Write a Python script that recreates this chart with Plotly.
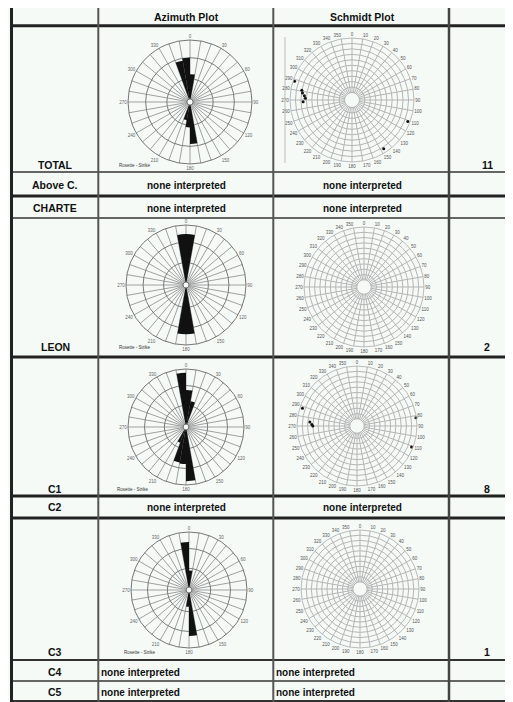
import plotly.graph_objects as go

# the page body has an 8px margin: the figure starts at page pixel (8, 8)
OFF = 8
W, H = 513, 702
FW, FH = W - OFF, H - OFF
BG = "#f5faf7"
FONT = "Liberation Sans"

# ---------------- data ----------------
header_labels = ["Azimuth Plot", "Schmidt Plot"]
row_labels = ["TOTAL", "Above C.", "CHARTE", "LEON", "C1", "C2", "C3", "C4", "C5"]
row_counts = ["11", "", "", "2", "8", "", "1", "", ""]
none_text = "none interpreted"

# rose (strike) bins: centre azimuth (deg) and relative length
rose_total_theta = [345, 355, 5, 175, 185, 195]
rose_total_r = [0.66, 0.70, 0.42, 0.66, 0.38, 0.26]
rose_leon_theta = [355, 5, 175, 185]
rose_leon_r = [0.84, 0.84, 0.81, 0.81]
rose_c1_theta = [355, 5, 15, 175, 185, 195, 205]
rose_c1_r = [0.93, 0.62, 0.42, 0.93, 0.62, 0.60, 0.25]
rose_c3_theta = [355, 5, 175, 185]
rose_c3_r = [0.82, 0.30, 0.78, 0.25]

rose_tick_vals = list(range(0, 360, 10))
rose_tick_text = [str(a) if a % 30 == 0 else "" for a in rose_tick_vals]
schmidt_tick_vals = list(range(0, 360, 10))
schmidt_tick_text = [str(a) for a in schmidt_tick_vals]

# Schmidt poles: azimuth (deg) and normalised radius
poles_total_az = [288, 275, 278, 272, 281, 268, 111, 147]
poles_total_r = [0.97, 0.74, 0.78, 0.72, 0.80, 0.76, 0.96, 0.93]
poles_c1_az = [288, 272, 275, 270, 82, 111]
poles_c1_r = [0.95, 0.72, 0.76, 0.70, 0.99, 0.97]

# ---------------- layout geometry (page pixels) ----------------
row_text_y = [165, 185, 208, 347, 489, 507, 652, 672, 692]
hlines = [(6.5, 3, "#222"), (25.7, 3, "#222"), (172, 1.5, "#333"), (196, 3, "#222"),
          (218, 1.5, "#333"), (357, 3, "#222"), (496, 3, "#222"), (518, 3, "#222"),
          (660, 2, "#333"), (681, 1.5, "#333"), (701, 2, "#333")]
vlines = [(11.5, 3, "#222"), (98.3, 2, "#555"), (273.3, 2, "#555"), (449, 2.5, "#444")]


def dom(cx, cy, r):
    x0, x1 = cx - r - OFF, cx + r - OFF
    y0, y1 = cy - r - OFF, cy + r - OFF
    return dict(x=[max(0, x0 / FW), min(1, x1 / FW)],
                y=[max(0, 1 - y1 / FH), min(1, 1 - y0 / FH)])


fig = go.Figure()
fig.add_trace(go.Scatter(x=[OFF, W], y=[OFF, H], mode="markers",
                         marker=dict(opacity=0), hoverinfo="skip", showlegend=False))

roses = [
    (rose_total_theta, rose_total_r, 190, 102, 62),
    (rose_leon_theta, rose_leon_r, 186, 285, 60),
    (rose_c1_theta, rose_c1_r, 186, 427, 58),
    (rose_c3_theta, rose_c3_r, 189, 590, 58),
]
schmidts = [
    (poles_total_az, poles_total_r, 352, 100, 62),
    ([], [], 364, 287, 60),
    (poles_c1_az, poles_c1_r, 357, 426, 60),
    ([], [], 360, 589, 59),
]

layout_polars = {}
idx = 1
for theta, r, cx, cy, rad in roses:
    name = "polar" if idx == 1 else f"polar{idx}"
    fig.add_trace(go.Barpolar(theta=theta, r=r, width=[10] * len(theta),
                              marker=dict(color="#111", line=dict(width=0)),
                              subplot=name, showlegend=False, hoverinfo="skip"))
    layout_polars[name] = dict(
        domain=dom(cx, cy, rad), bgcolor="rgba(0,0,0,0)", hole=0.05,
        radialaxis=dict(range=[0, 1], tickvals=[0.34, 0.7], showticklabels=False,
                        showline=False, ticks="", gridcolor="#7a7a7a", gridwidth=0.7),
        angularaxis=dict(rotation=90, direction="clockwise", tickvals=rose_tick_vals,
                         ticktext=rose_tick_text, ticks="",
                         tickfont=dict(size=4.5, color="#666", family=FONT),
                         gridcolor="#a0a0a0", gridwidth=0.6,
                         linecolor="#666", linewidth=0.9))
    idx += 1

for az, pr, cx, cy, rad in schmidts:
    name = f"polar{idx}"
    fig.add_trace(go.Scatterpolar(theta=az, r=pr, mode="markers",
                                  marker=dict(color="#111", size=3, symbol="circle"),
                                  subplot=name, showlegend=False, hoverinfo="skip"))
    layout_polars[name] = dict(
        domain=dom(cx, cy, rad), bgcolor="rgba(0,0,0,0)", hole=0.12,
        radialaxis=dict(range=[0, 1], tickvals=[0.1 * k for k in range(1, 10)],
                        showticklabels=False, showline=False, ticks="",
                        gridcolor="#b5b5b5", gridwidth=0.6),
        angularaxis=dict(rotation=90, direction="clockwise", tickvals=schmidt_tick_vals,
                         ticktext=schmidt_tick_text, ticks="",
                         tickfont=dict(size=4.5, color="#555", family=FONT),
                         gridcolor="#b5b5b5", gridwidth=0.6,
                         linecolor="#aaa", linewidth=0.8))
    idx += 1

shapes = []
for y, w, c in hlines:
    shapes.append(dict(type="line", xref="x", yref="y", x0=10, x1=W, y0=y, y1=y,
                       line=dict(color=c, width=w), layer="above"))
for x, w, c in vlines:
    shapes.append(dict(type="line", xref="x", yref="y", x0=x, x1=x, y0=5, y1=H,
                       line=dict(color=c, width=w), layer="above"))
shapes.append(dict(type="line", xref="x", yref="y", x0=285, x1=285, y0=37, y1=163,
                   line=dict(color="#bbb", width=1)))

ann = []


def txt(x, y, s, size=10, bold=True, anchor="center", color="#111"):
    ann.append(dict(x=x, y=y, xref="x", yref="y", text=f"<b>{s}</b>" if bold else s,
                    showarrow=False, xanchor=anchor, yanchor="middle",
                    font=dict(family=FONT, size=size, color=color)))


txt(186, 17, header_labels[0], size=10.5)
txt(362, 17, header_labels[1], size=10.5)
for lab, cnt, y in zip(row_labels, row_counts, row_text_y):
    txt(55, y, lab, size=10.5)
    if cnt:
        txt(487, y, cnt, size=10.5)
for i in (1, 2, 5):
    txt(186, row_text_y[i], none_text, size=10, bold=True)
    txt(362, row_text_y[i], none_text, size=10, bold=True)
for i in (7, 8):
    txt(99, row_text_y[i], none_text, size=10, bold=True, anchor="left")
    txt(274, row_text_y[i], none_text, size=10, bold=True, anchor="left")
for x, y in [(117, 165), (117, 347), (115, 489), (122, 652)]:
    txt(x, y, "Rosette - Strike", size=4.5, bold=False, anchor="left", color="#333")

fig.update_layout(
    width=FW, height=FH, margin=dict(l=0, r=0, t=0, b=0),
    paper_bgcolor=BG, plot_bgcolor=BG, showlegend=False,
    xaxis=dict(range=[OFF, W], visible=False, fixedrange=True, domain=[0, 1]),
    yaxis=dict(range=[H, OFF], visible=False, fixedrange=True, domain=[0, 1]),
    shapes=shapes, annotations=ann, **layout_polars)

fig.write_html("out.html")
